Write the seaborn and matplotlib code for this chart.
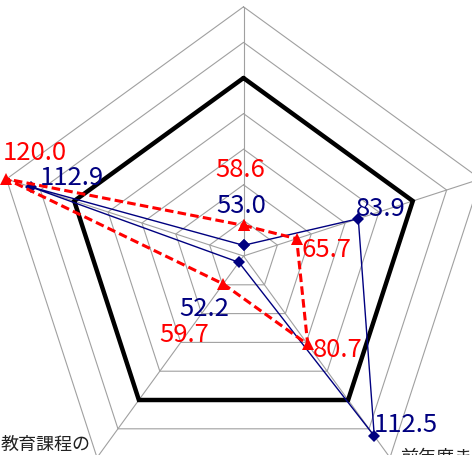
import numpy as np
import pandas as pd
import matplotlib
matplotlib.use("Agg")
import matplotlib.pyplot as plt
import seaborn as sns

# ---- data ----
categories = ["", "", "前年度ま", "教育課程の", ""]
blue_vals = [53.0, 83.9, 112.5, 52.2, 112.9]
red_vals = [58.6, 65.7, 80.7, 59.7, 120.0]
bench_vals = [100, 100, 100, 100, 100]
ring_vals = [60, 70, 80, 90, 110, 120]
r_min = 50
r_max = 120

sns.set_theme(style="white")
plt.rcParams["font.family"] = ["Noto Sans CJK JP", "DejaVu Sans"]

n = len(categories)
theta = np.deg2rad(np.arange(n) * 360.0 / n)


def polygon(vals):
    r = np.asarray(vals, dtype=float) - r_min
    x = r * np.sin(theta)
    y = r * np.cos(theta)
    x = np.append(x, x[0])
    y = np.append(y, y[0])
    return pd.DataFrame({"x": x, "y": y, "order": np.arange(len(x))})


fig = plt.figure(figsize=(4.72, 4.56), dpi=100)
ax = fig.add_axes([0, 0, 1, 1])
scale = 3.56  # px per unit
cx, cy = 243.5, 257.0
ax.set_xlim(-cx / scale, (472 - cx) / scale)
ax.set_ylim(-(456 - cy) / scale, cy / scale)
ax.axis("off")

grid_color = "#a0a0a0"
# rings
for rv in ring_vals:
    d = polygon([rv] * n)
    ax.plot(d["x"], d["y"], color=grid_color, lw=0.8, zorder=1)
# spokes
outer = polygon([r_max] * n)
for i in range(n):
    ax.plot([0, outer["x"][i]], [0, outer["y"][i]], color=grid_color, lw=0.8, zorder=1)

# benchmark (thick black)
sns.lineplot(data=polygon(bench_vals), x="x", y="y", sort=False, estimator=None,
             color="black", lw=3.2, ax=ax, zorder=2, solid_joinstyle="miter")

# blue series
db = polygon(blue_vals)
sns.lineplot(data=db, x="x", y="y", sort=False, estimator=None,
             color="#000080", lw=1.0, marker="D", markersize=5.8,
             markeredgewidth=0, ax=ax, zorder=3)

# red series
dr = polygon(red_vals)
sns.lineplot(data=dr, x="x", y="y", sort=False, estimator=None,
             color="#ff0000", lw=2.2, linestyle=(0, (2.8, 1.4)), marker="^",
             markersize=8.5, markeredgewidth=0, ax=ax, zorder=4)

# value labels (offsets in pixels)
blue_off = [(-2.5, 33.3), (22.7, 3.7), (31.7, 5.0), (-34.4, -52.7), (41.0, 2.8)]
red_off = [(-3.5, 49.4), (30.3, -17.3), (30.2, -11.6), (-38.7, -57.1), (28.5, 20.0)]
for vals, d, offs, col in [(blue_vals, db, blue_off, "#000080"),
                            (red_vals, dr, red_off, "#ff0000")]:
    for i, v in enumerate(vals):
        ax.annotate(f"{v:.1f}", xy=(d["x"][i], d["y"][i]), xytext=offs[i],
                    textcoords="offset pixels", ha="center", va="baseline",
                    color=col, fontsize=18.5, zorder=5, annotation_clip=False)

# category labels
cat_off = {2: (10, -4.4, "left"), 3: (-6, 8.6, "right")}
for i, c in enumerate(categories):
    if not c:
        continue
    dx, dy, ha = cat_off[i]
    ax.annotate(c, xy=(outer["x"][i], outer["y"][i]), xytext=(dx, dy),
                textcoords="offset pixels", ha=ha, va="baseline",
                color="#222222", fontsize=13, annotation_clip=False)

fig.savefig("out.png", dpi=100)
